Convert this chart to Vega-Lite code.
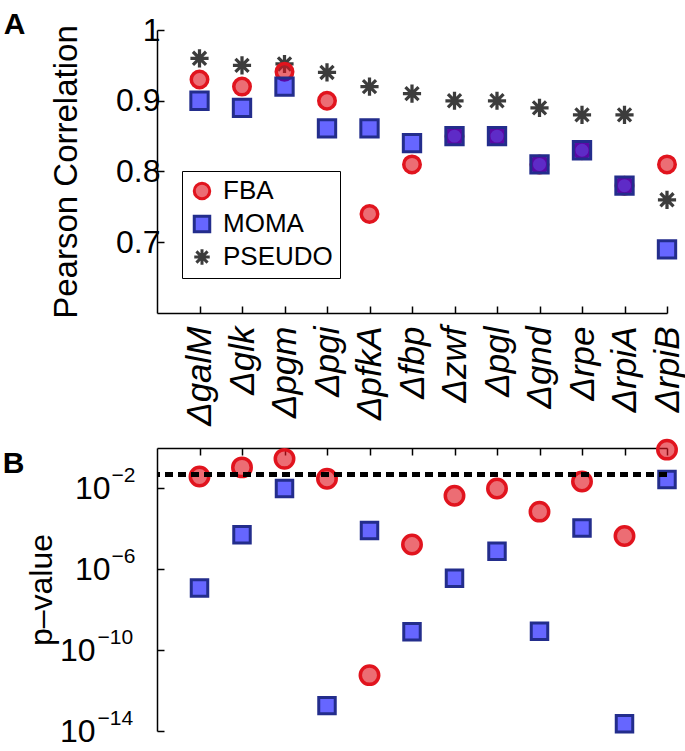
{
  "$schema": "https://vega.github.io/schema/vega-lite/v6.json",
  "padding": {"left": 2, "top": 10, "right": 5, "bottom": 5},
  "background": "white",
  "config": {
    "font": "Liberation Sans",
    "view": {"stroke": null},
    "axis": {
      "grid": false,
      "domainColor": "black",
      "domainWidth": 1.5,
      "tickColor": "black",
      "tickWidth": 1.5,
      "labelColor": "black",
      "titleColor": "black",
      "labelFont": "Liberation Sans",
      "titleFont": "Liberation Sans",
      "titleFontWeight": "normal"
    },
    "legend": {
      "labelFont": "Liberation Sans"
    }
  },
  "datasets": {
    "d": [
      {"gene": "ΔgalM", "method": "PSEUDO", "r": 0.96, "p": null},
      {"gene": "Δglk", "method": "PSEUDO", "r": 0.95, "p": null},
      {"gene": "Δpgm", "method": "PSEUDO", "r": 0.952, "p": null},
      {"gene": "Δpgi", "method": "PSEUDO", "r": 0.94, "p": null},
      {"gene": "ΔpfkA", "method": "PSEUDO", "r": 0.92, "p": null},
      {"gene": "Δfbp", "method": "PSEUDO", "r": 0.91, "p": null},
      {"gene": "Δzwf", "method": "PSEUDO", "r": 0.90, "p": null},
      {"gene": "Δpgl", "method": "PSEUDO", "r": 0.90, "p": null},
      {"gene": "Δgnd", "method": "PSEUDO", "r": 0.89, "p": null},
      {"gene": "Δrpe", "method": "PSEUDO", "r": 0.88, "p": null},
      {"gene": "ΔrpiA", "method": "PSEUDO", "r": 0.88, "p": null},
      {"gene": "ΔrpiB", "method": "PSEUDO", "r": 0.76, "p": null},
      {"gene": "ΔgalM", "method": "FBA", "r": 0.93, "p": 0.039},
      {"gene": "Δglk", "method": "FBA", "r": 0.92, "p": 0.11},
      {"gene": "Δpgm", "method": "FBA", "r": 0.941, "p": 0.29},
      {"gene": "Δpgi", "method": "FBA", "r": 0.90, "p": 0.030},
      {"gene": "ΔpfkA", "method": "FBA", "r": 0.74, "p": 5.8e-12},
      {"gene": "Δfbp", "method": "FBA", "r": 0.81, "p": 1.7e-5},
      {"gene": "Δzwf", "method": "FBA", "r": 0.85, "p": 0.0043},
      {"gene": "Δpgl", "method": "FBA", "r": 0.85, "p": 0.01},
      {"gene": "Δgnd", "method": "FBA", "r": 0.81, "p": 0.00071},
      {"gene": "Δrpe", "method": "FBA", "r": 0.83, "p": 0.022},
      {"gene": "ΔrpiA", "method": "FBA", "r": 0.78, "p": 4.4e-5},
      {"gene": "ΔrpiB", "method": "FBA", "r": 0.81, "p": 0.83},
      {"gene": "ΔgalM", "method": "MOMA", "r": 0.90, "p": 1.2e-7},
      {"gene": "Δglk", "method": "MOMA", "r": 0.89, "p": 5.1e-5},
      {"gene": "Δpgm", "method": "MOMA", "r": 0.92, "p": 0.01},
      {"gene": "Δpgi", "method": "MOMA", "r": 0.861, "p": 1.8e-13},
      {"gene": "ΔpfkA", "method": "MOMA", "r": 0.861, "p": 8.3e-5},
      {"gene": "Δfbp", "method": "MOMA", "r": 0.84, "p": 8.1e-10},
      {"gene": "Δzwf", "method": "MOMA", "r": 0.85, "p": 3.6e-7},
      {"gene": "Δpgl", "method": "MOMA", "r": 0.85, "p": 7.9e-6},
      {"gene": "Δgnd", "method": "MOMA", "r": 0.81, "p": 8.7e-10},
      {"gene": "Δrpe", "method": "MOMA", "r": 0.83, "p": 1.1e-4},
      {"gene": "ΔrpiA", "method": "MOMA", "r": 0.78, "p": 2.3e-14},
      {"gene": "ΔrpiB", "method": "MOMA", "r": 0.69, "p": 0.028}
    ]
  },
  "bounds": "flush",
  "spacing": 135,
  "vconcat": [
    {
      "width": 510,
      "height": 283,
      "title": {"text": "A", "orient": "left", "anchor": "end", "frame": "group", "angle": 0, "align": "left", "baseline": "alphabetic", "fontSize": 30, "fontWeight": "bold", "color": "black", "offset": 25, "dy": 4},
      "data": {"name": "d"},
      "mark": {"type": "point", "filled": true, "clip": false, "opacity": 1},
      "encoding": {
        "x": {
          "field": "gene", "type": "nominal", "sort": null,
          "scale": {"type": "point", "padding": 0.5, "align": 1},
          "axis": {"title": null, "labelAngle": -90, "labelFontSize": 35, "labelFontStyle": "italic", "tickSize": -7, "labelPadding": 20, "labelAlign": "right", "labelBaseline": "middle"}
        },
        "y": {
          "field": "r", "type": "quantitative",
          "scale": {"domain": [0.6, 1], "nice": false, "zero": false},
          "axis": {"title": "Pearson Correlation", "titleFontSize": 33, "labelFontSize": 32, "values": [0.7, 0.8, 0.9, 1], "labelExpr": "datum.value == 1 ? '1' : format(datum.value, '.1f')", "tickSize": -7, "labelPadding": 4, "titlePadding": 32}
        },
        "shape": {
          "field": "method", "type": "nominal",
          "scale": {"domain": ["FBA", "MOMA", "PSEUDO"], "range": ["circle", "square", "M0,-1L0,1M-1,0L1,0M-0.72,-0.72L0.72,0.72M-0.72,0.72L0.72,-0.72"]},
          "legend": {"title": null, "orient": "none", "legendX": 25, "legendY": 141, "labelFontSize": 26, "labelColor": "black", "symbolSize": 240, "symbolStrokeWidth": 3, "strokeColor": "black", "fillColor": "white", "padding": 7, "rowPadding": 5, "labelOffset": 8}
        },
        "fill": {
          "field": "method", "type": "nominal",
          "scale": {"domain": ["FBA", "MOMA", "PSEUDO"], "range": ["rgba(225,20,30,0.62)", "rgba(0,0,255,0.6)", "rgba(0,0,0,0)"]},
          "legend": {"title": null, "orient": "none", "legendX": 25, "legendY": 141, "labelFontSize": 26, "labelColor": "black", "symbolSize": 240, "symbolStrokeWidth": 3, "strokeColor": "black", "fillColor": "white", "padding": 7, "rowPadding": 5, "labelOffset": 8}
        },
        "stroke": {
          "field": "method", "type": "nominal",
          "scale": {"domain": ["FBA", "MOMA", "PSEUDO"], "range": ["#e1141e", "#232d8c", "#3c3c3c"]},
          "legend": {"title": null, "orient": "none", "legendX": 25, "legendY": 141, "labelFontSize": 26, "labelColor": "black", "symbolSize": 240, "symbolStrokeWidth": 3, "strokeColor": "black", "fillColor": "white", "padding": 7, "rowPadding": 5, "labelOffset": 8}
        },
        "size": {
          "field": "method", "type": "nominal",
          "scale": {"domain": ["PSEUDO", "MOMA", "FBA"], "range": [330, 272, 340]},
          "legend": null
        },
        "strokeWidth": {
          "field": "method", "type": "nominal",
          "scale": {"domain": ["MOMA", "PSEUDO", "FBA"], "range": [3, 3.5, 3.5]},
          "legend": null
        }
      }
    },
    {
      "width": 510,
      "height": 283,
      "title": {"text": "B", "orient": "left", "anchor": "end", "frame": "group", "angle": 0, "align": "left", "baseline": "alphabetic", "fontSize": 30, "fontWeight": "bold", "color": "black", "offset": 1, "dy": 25},
      "data": {"name": "d"},
      "transform": [{"filter": "datum.p != null"}],
      "layer": [
        {
          "mark": {"type": "point", "filled": true, "clip": false, "opacity": 1},
          "encoding": {
            "x": {
              "field": "gene", "type": "nominal", "sort": null,
              "scale": {"type": "point", "padding": 0.5, "align": 1},
              "axis": {"orient": "top", "title": null, "labels": false, "tickSize": -7}
            },
            "y": {
              "field": "p", "type": "quantitative",
              "scale": {"type": "log", "domain": [1e-14, 1], "nice": false},
              "axis": {"orient": "left", "title": "p–value", "titleFontSize": 32, "labelFontSize": 32, "values": [0.01, 1e-6, 1e-10, 1e-14], "labelExpr": "'10'", "labelAlign": "right", "tickSize": -7, "labelPadding": {"condition": {"test": "datum.value < 1e-8", "value": 69}, "value": 54}, "titlePadding": 1}
            },
            "shape": {
              "field": "method", "type": "nominal",
              "scale": {"domain": ["FBA", "MOMA"], "range": ["circle", "square"]},
              "legend": null
            },
            "fill": {
              "field": "method", "type": "nominal",
              "scale": {"domain": ["FBA", "MOMA"], "range": ["rgba(225,20,30,0.62)", "rgba(0,0,255,0.6)"]},
              "legend": null
            },
            "stroke": {
              "field": "method", "type": "nominal",
              "scale": {"domain": ["FBA", "MOMA"], "range": ["#e1141e", "#232d8c"]},
              "legend": null
            },
            "size": {
              "field": "method", "type": "nominal",
              "scale": {"domain": ["FBA", "MOMA"], "range": [340, 272]},
              "legend": null
            },
            "strokeWidth": {
              "field": "method", "type": "nominal",
              "scale": {"domain": ["FBA", "MOMA"], "range": [3.5, 3]},
              "legend": null
            }
          }
        },
        {
          "mark": {"type": "rule", "color": "black", "strokeWidth": 4, "strokeDash": [8, 5]},
          "encoding": {
            "y": {
              "datum": 0.05, "type": "quantitative",
              "axis": {"orient": "left", "title": null, "domain": false, "ticks": false, "labelFontSize": 21, "values": [0.01, 1e-6, 1e-10, 1e-14], "labelExpr": "datum.value > 1e-3 ? '−2' : datum.value > 1e-7 ? '−6' : datum.value > 1e-11 ? '−10' : '−14'", "labelAlign": "left", "labelBaseline": "middle", "labelOffset": -13, "labelPadding": {"condition": {"test": "datum.value < 1e-8", "value": 60}, "value": 46}}
            }
          }
        }
      ],
      "resolve": {"axis": {"y": "independent"}, "scale": {"shape": "independent", "fill": "independent", "stroke": "independent", "size": "independent", "strokeWidth": "independent"}}
    }
  ],
  "resolve": {"scale": {"shape": "independent", "fill": "independent", "stroke": "independent", "size": "independent", "strokeWidth": "independent", "x": "independent", "y": "independent"}}
}
